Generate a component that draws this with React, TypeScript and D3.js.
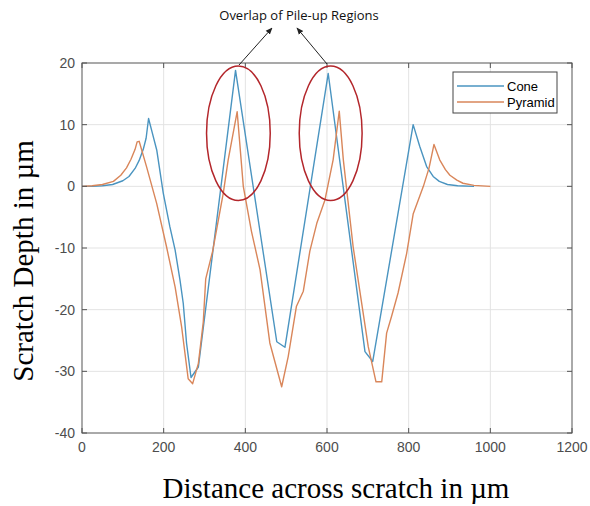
import React from "react";
import * as d3 from "d3";

const coneX = [0, 25, 50, 75, 100, 115, 130, 140, 150, 157, 163, 172, 183, 199, 215, 228, 240, 248, 256, 267, 285, 376, 477, 497, 603, 693, 712, 811, 827, 844, 860, 875, 895, 920, 960];
const coneY = [0, 0.02, 0.1, 0.3, 0.9, 1.6, 2.9, 4.2, 6.0, 7.8, 11.0, 8.7, 5.9, -1.1, -6.5, -10.3, -15.2, -19, -25.4, -31.0, -29.3, 18.8, -25.2, -26.1, 18.3, -26.8, -28.4, 10.0, 6.5, 3.2, 1.6, 0.8, 0.3, 0.1, 0];

const pyrX = [0, 25, 50, 77, 95, 109, 120, 130, 135, 140, 158, 183, 207, 228, 244, 260, 271, 285, 297, 303, 320, 346, 358, 380, 395, 415, 436, 460, 489, 505, 525, 542, 558, 575, 595, 615, 630, 640, 664, 701, 720, 734, 746, 758, 774, 795, 811, 836, 850, 862, 876, 890, 901, 918, 933, 960, 1000];
const pyrY = [0, 0.1, 0.3, 0.8, 1.8, 3.0, 4.4, 6.0, 7.2, 7.3, 3.2, -2.8, -9.8, -16.3, -22.8, -31.2, -32.0, -28.7, -22.0, -15.0, -10.5, -1.1, 4.3, 12.1, 0, -7.3, -13.5, -25.4, -32.5, -27.6, -19.5, -17.0, -10.5, -6.0, -2.2, 4.3, 12.2, 4.3, -9.8, -26.0, -31.7, -31.7, -23.8, -21.1, -17.3, -10.9, -4.5, 0, 3.0, 6.8, 4.3, 2.7, 1.8, 1.0, 0.5, 0.15, 0];

const xTicks = [0, 200, 400, 600, 800, 1000, 1200];
const yTicks = [-40, -30, -20, -10, 0, 10, 20];

const seriesNames = ["Cone", "Pyramid"];
const seriesColors = ["#4a94c0", "#d9865a"];

// annotation ellipses in data coordinates: [cx, cy, rx, ry]
const ellipses = [
  [383, 8.6, 78, 10.9],
  [609, 8.6, 77, 10.9],
];
const annotationText = "Overlap of Pile-up Regions";

export default function App() {
  const W = 590, H = 506;
  const x = d3.scaleLinear().domain([0, 1200]).range([82, 572]);
  const y = d3.scaleLinear().domain([-40, 20]).range([433, 63]);
  const line = d3
    .line<[number, number]>()
    .x((d) => x(d[0]))
    .y((d) => y(d[1]));
  const cone: [number, number][] = coneX.map((v, i) => [v, coneY[i]]);
  const pyr: [number, number][] = pyrX.map((v, i) => [v, pyrY[i]]);
  const series = [cone, pyr];
  const [x0, x1] = x.range();
  const [yb, yt] = y.range();
  const axisColor = "#555";
  const tickFont = "Liberation Sans, Arial, sans-serif";

  const ellPx = ellipses.map(([cx, cy, rx, ry]) => ({
    cx: x(cx),
    cy: y(cy),
    rx: x(rx) - x(0),
    ry: y(0) - y(ry),
  }));

  return (
    <svg
      width={W}
      height={H}
      style={{ position: "absolute", left: 0, top: 0, background: "#fff" }}
    >
      <defs>
        <marker id="ah" viewBox="0 0 10 10" refX="9" refY="5" markerWidth="7" markerHeight="7" orient="auto">
          <path d="M0,1 L10,5 L0,9 z" fill="#222" />
        </marker>
      </defs>
      <rect x={0} y={0} width={W} height={H} fill="#fff" />
      {/* grid */}
      {xTicks.slice(1, -1).map((t) => (
        <line key={"gx" + t} x1={x(t)} x2={x(t)} y1={yt} y2={yb} stroke="#e3e3e3" strokeWidth={1} />
      ))}
      {yTicks.slice(1, -1).map((t) => (
        <line key={"gy" + t} x1={x0} x2={x1} y1={y(t)} y2={y(t)} stroke="#e3e3e3" strokeWidth={1} />
      ))}
      {/* series */}
      {series.map((s, i) => (
        <path key={i} d={line(s) || ""} fill="none" stroke={seriesColors[i]} strokeWidth={1.4} strokeLinejoin="round" />
      ))}
      {/* box */}
      <rect x={x0} y={yt} width={x1 - x0} height={yb - yt} fill="none" stroke={axisColor} strokeWidth={1} />
      {/* ticks */}
      {xTicks.map((t) => (
        <g key={"xt" + t}>
          <line x1={x(t)} x2={x(t)} y1={yb} y2={yb - 5} stroke={axisColor} />
          <line x1={x(t)} x2={x(t)} y1={yt} y2={yt + 5} stroke={axisColor} />
          <text x={x(t)} y={452} textAnchor="middle" fontFamily={tickFont} fontSize={14} fill="#4d4d4d">
            {t}
          </text>
        </g>
      ))}
      {yTicks.map((t) => (
        <g key={"yt" + t}>
          <line x1={x0} x2={x0 + 5} y1={y(t)} y2={y(t)} stroke={axisColor} />
          <line x1={x1} x2={x1 - 5} y1={y(t)} y2={y(t)} stroke={axisColor} />
          <text x={75} y={y(t) + 5} textAnchor="end" fontFamily={tickFont} fontSize={14} fill="#4d4d4d">
            {t}
          </text>
        </g>
      ))}
      {/* axis labels */}
      <text x={336} y={498} textAnchor="middle" fontFamily="Liberation Serif, Times New Roman, serif" fontSize={29} fill="#000">
        Distance across scratch in µm
      </text>
      <text
        transform={`translate(33,261) rotate(-90)`}
        textAnchor="middle"
        fontFamily="Liberation Serif, Times New Roman, serif"
        fontSize={29}
        fill="#000"
      >
        Scratch Depth in µm
      </text>
      {/* legend */}
      <rect x={453} y={72} width={104} height={41} fill="#fff" stroke="#444" strokeWidth={1} />
      {seriesNames.map((n, i) => (
        <g key={n}>
          <line x1={457} x2={504} y1={86 + i * 16} y2={86 + i * 16} stroke={seriesColors[i]} strokeWidth={1.4} />
          <text x={507} y={90.5 + i * 16} fontFamily={tickFont} fontSize={13} fill="#000">
            {n}
          </text>
        </g>
      ))}
      {/* annotation */}
      {ellPx.map((e, i) => (
        <ellipse key={i} cx={e.cx} cy={e.cy} rx={e.rx} ry={e.ry} fill="none" stroke="#b3262b" strokeWidth={1.5} />
      ))}
      <line x1={239} y1={65} x2={272} y2={28} stroke="#222" strokeWidth={1} markerEnd="url(#ah)" />
      <line x1={327} y1={64} x2={297} y2={28} stroke="#222" strokeWidth={1} markerEnd="url(#ah)" />
      <text x={299} y={20} textAnchor="middle" fontFamily="Open Sans, Liberation Sans, sans-serif" fontSize={13} fill="#111">
        {annotationText}
      </text>
    </svg>
  );
}
